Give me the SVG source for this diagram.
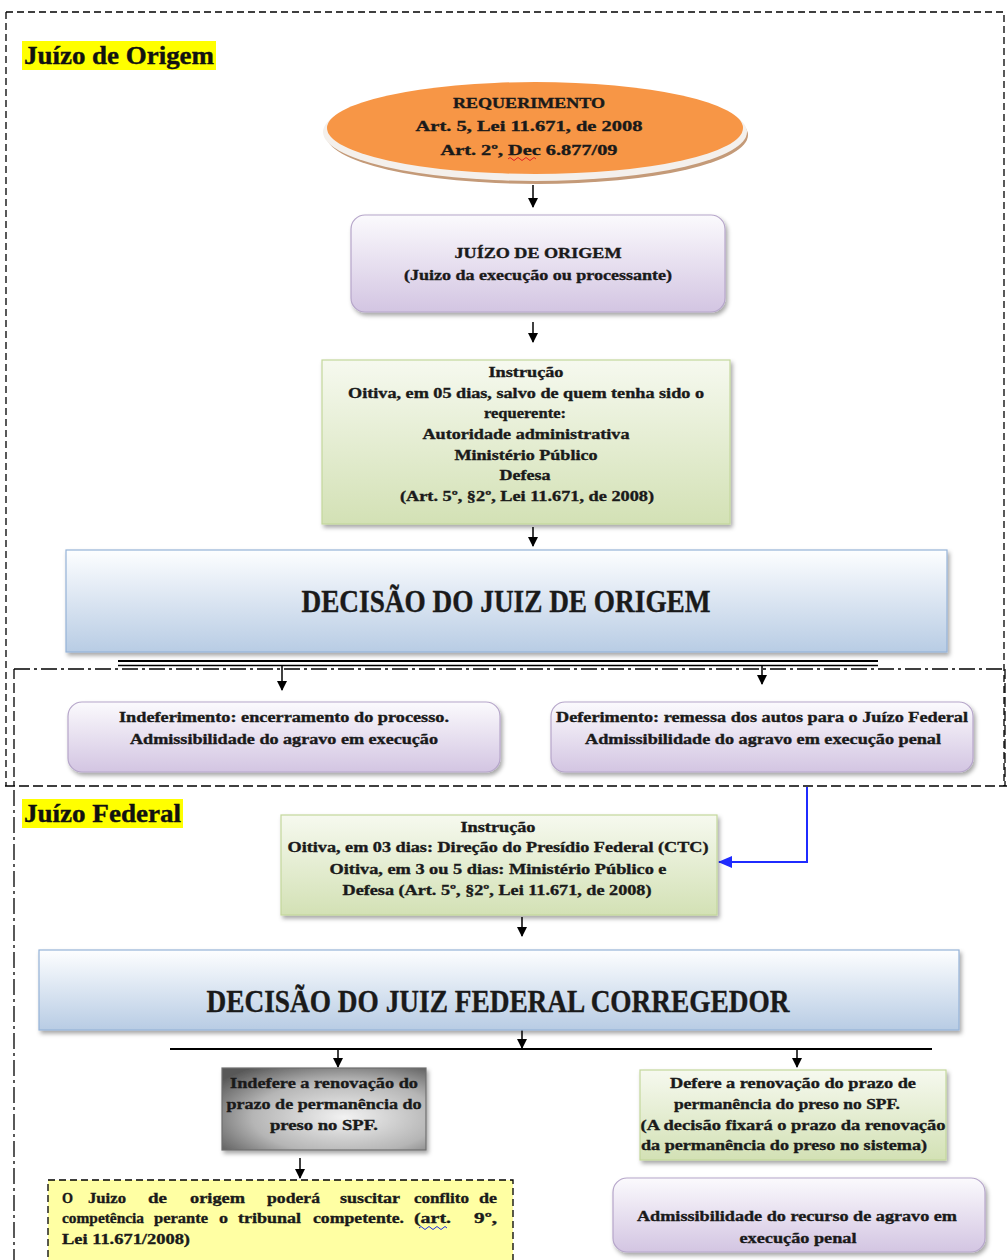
<svg xmlns="http://www.w3.org/2000/svg" width="1007" height="1260" viewBox="0 0 1007 1260">
<style>
.t{font-family:"Liberation Serif","Times New Roman",serif;font-weight:bold;fill:#1a1a1a;stroke:#1a1a1a;stroke-width:0.35;text-anchor:middle;font-size:14.5px}
.tl{font-family:"Liberation Serif","Times New Roman",serif;font-weight:bold;fill:#1a1a1a;stroke:#1a1a1a;stroke-width:0.35;font-size:15px}
.big{font-family:"Liberation Serif","Times New Roman",serif;font-weight:bold;fill:#1a1a1a;stroke:#1a1a1a;stroke-width:0.4;text-anchor:middle;font-size:32px}
.lab{font-family:"Liberation Serif","Times New Roman",serif;font-weight:bold;fill:#111;stroke:#111;stroke-width:0.4;font-size:25px}
.lav{fill:url(#gLav);stroke:#B6A6CA;stroke-width:1.2}
.grn{fill:url(#gGrn);stroke:#C4D79B;stroke-width:1.2}
.blu{fill:url(#gBlu);stroke:#95B3D7;stroke-width:1.2}
.conn{stroke:#000;stroke-width:1.5;fill:none}
.frame{fill:none;stroke:#000;stroke-width:1.3}
</style>
<defs>
<linearGradient id="gLav" x1="0" y1="0" x2="0" y2="1"><stop offset="0" stop-color="#FBFAFD"/><stop offset="1" stop-color="#D3C5E2"/></linearGradient>
<linearGradient id="gGrn" x1="0" y1="0" x2="0" y2="1"><stop offset="0" stop-color="#F6F9EF"/><stop offset="1" stop-color="#D3E1B5"/></linearGradient>
<linearGradient id="gBlu" x1="0" y1="0" x2="0" y2="1"><stop offset="0" stop-color="#FDFEFF"/><stop offset="1" stop-color="#B8CCE4"/></linearGradient>
<radialGradient id="gGray" cx="0.6" cy="0.6" r="0.75"><stop offset="0" stop-color="#F2F2F2"/><stop offset="0.6" stop-color="#B5B5B5"/><stop offset="1" stop-color="#595959"/></radialGradient>
<filter id="sh" x="-5%" y="-10%" width="110%" height="130%"><feDropShadow dx="2" dy="3" stdDeviation="2" flood-color="#000" flood-opacity="0.35"/></filter>
<marker id="ah" markerWidth="10" markerHeight="10" refX="9" refY="5" orient="auto" markerUnits="userSpaceOnUse"><path d="M0,0 L10,5 L0,10 Z" fill="#000"/></marker>
<marker id="ahb" markerWidth="14" markerHeight="12" refX="13" refY="6" orient="auto" markerUnits="userSpaceOnUse"><path d="M0,0 L14,6 L0,12 Z" fill="#1F2BFF"/></marker>
</defs>

<g id="frames">
<path class="frame" stroke-dasharray="7,4" d="M6,12 H1004 V786 M6,12 V786"/>
<path class="frame" stroke-dasharray="16,4,3,4" d="M14,669 H1005"/>
<path class="frame" stroke-dasharray="10,4" d="M14,669 V786 M1005,669 V786 M5,786 H1007"/>
<path class="frame" stroke-dasharray="16,4,3,4" d="M14,790 V1260"/>
</g>

<g id="label-origem">
<rect x="22" y="41" width="194" height="29" fill="#FFFF00"/>
<text class="lab" x="24" y="64" textLength="190" lengthAdjust="spacingAndGlyphs">Juízo de Origem</text>
</g>

<g id="label-federal">
<rect x="22" y="799" width="161" height="29" fill="#FFFF00"/>
<text class="lab" x="24" y="822" textLength="157" lengthAdjust="spacingAndGlyphs">Juízo Federal</text>
</g>

<g id="connectors">
<line class="conn" x1="533" y1="185" x2="533" y2="207" marker-end="url(#ah)"/>
<line class="conn" x1="533" y1="322" x2="533" y2="342" marker-end="url(#ah)"/>
<line class="conn" x1="533" y1="527" x2="533" y2="546" marker-end="url(#ah)"/>
<line stroke="#000" stroke-width="2" x1="118" y1="661" x2="878" y2="661"/>
<line stroke="#000" stroke-width="1.5" x1="118" y1="665.5" x2="878" y2="665.5"/>
<line class="conn" x1="282" y1="665" x2="282" y2="690" marker-end="url(#ah)"/>
<line class="conn" x1="762" y1="665" x2="762" y2="684" marker-end="url(#ah)"/>
<path d="M807,787 V862 H719" fill="none" stroke="#1F2BFF" stroke-width="2" marker-end="url(#ahb)"/>
<line class="conn" x1="522" y1="917" x2="522" y2="936" marker-end="url(#ah)"/>
<line class="conn" x1="522" y1="1030" x2="522" y2="1048" marker-end="url(#ah)"/>
<line stroke="#000" stroke-width="2" x1="170" y1="1049" x2="932" y2="1049"/>
<line class="conn" x1="338" y1="1049" x2="338" y2="1067" marker-end="url(#ah)"/>
<line class="conn" x1="797" y1="1049" x2="797" y2="1067" marker-end="url(#ah)"/>
<line class="conn" x1="300" y1="1158" x2="300" y2="1178" marker-end="url(#ah)"/>
</g>

<g id="requerimento">
<ellipse cx="537" cy="135" rx="211" ry="49" fill="#C49A78"/>
<ellipse cx="535" cy="132" rx="212" ry="49" fill="#F4F0EC"/>
<ellipse cx="535" cy="128" rx="208" ry="46" fill="#F79646"/>
<text class="t" x="529" y="108" font-size="14" textLength="152" lengthAdjust="spacingAndGlyphs">REQUERIMENTO</text>
<text class="t" x="529" y="131" font-size="18" textLength="227" lengthAdjust="spacingAndGlyphs">Art. 5, Lei 11.671, de 2008</text>
<text class="t" x="529" y="155" font-size="18" textLength="177" lengthAdjust="spacingAndGlyphs">Art. 2º, Dec 6.877/09</text>
<path d="M508,159 q2,-3 4,0 t4,0 t4,0 t4,0 t4,0 t4,0 t4,0" fill="none" stroke="#E02020" stroke-width="1"/>
</g>

<g id="juizo-origem">
<rect class="lav" x="351" y="215" width="374" height="97" rx="14" filter="url(#sh)"/>
<text class="t" x="538" y="258" textLength="167" lengthAdjust="spacingAndGlyphs">JUÍZO DE ORIGEM</text>
<text class="t" x="538" y="280" textLength="268" lengthAdjust="spacingAndGlyphs">(Juizo da execução ou processante)</text>
</g>

<g id="instrucao-origem">
<rect class="grn" x="322" y="360" width="408" height="164" filter="url(#sh)"/>
<text class="t" x="526" y="377" textLength="75" lengthAdjust="spacingAndGlyphs">Instrução</text>
<text class="t" x="526" y="398" textLength="356" lengthAdjust="spacingAndGlyphs">Oitiva, em 05 dias, salvo de quem tenha sido o</text>
<text class="t" x="525" y="418" textLength="82" lengthAdjust="spacingAndGlyphs">requerente:</text>
<text class="t" x="526" y="439" textLength="207" lengthAdjust="spacingAndGlyphs">Autoridade administrativa</text>
<text class="t" x="526" y="460" textLength="143" lengthAdjust="spacingAndGlyphs">Ministério Público</text>
<text class="t" x="525" y="480" textLength="51" lengthAdjust="spacingAndGlyphs">Defesa</text>
<text class="t" x="527" y="501" textLength="254" lengthAdjust="spacingAndGlyphs">(Art. 5º, §2º, Lei 11.671, de 2008)</text>
</g>

<g id="decisao-origem">
<rect class="blu" x="66" y="550" width="881" height="102" filter="url(#sh)"/>
<text class="big" x="506" y="612" textLength="409" lengthAdjust="spacingAndGlyphs">DECISÃO DO JUIZ DE ORIGEM</text>
</g>

<g id="indeferimento">
<rect class="lav" x="68" y="702" width="432" height="70" rx="14" filter="url(#sh)"/>
<text class="t" x="284" y="722" textLength="330" lengthAdjust="spacingAndGlyphs">Indeferimento: encerramento do processo.</text>
<text class="t" x="284" y="744" textLength="308" lengthAdjust="spacingAndGlyphs">Admissibilidade do agravo em execução</text>
</g>

<g id="deferimento">
<rect class="lav" x="551" y="702" width="422" height="70" rx="14" filter="url(#sh)"/>
<text class="t" x="762" y="722" textLength="412" lengthAdjust="spacingAndGlyphs">Deferimento: remessa dos autos para o Juízo Federal</text>
<text class="t" x="763" y="744" textLength="356" lengthAdjust="spacingAndGlyphs">Admissibilidade do agravo em execução penal</text>
</g>

<g id="instrucao-federal">
<rect class="grn" x="281" y="815" width="436" height="100" filter="url(#sh)"/>
<text class="t" x="498" y="832" textLength="75" lengthAdjust="spacingAndGlyphs">Instrução</text>
<text class="t" x="498" y="852" textLength="421" lengthAdjust="spacingAndGlyphs">Oitiva, em 03 dias: Direção do Presídio Federal (CTC)</text>
<text class="t" x="498" y="874" textLength="337" lengthAdjust="spacingAndGlyphs">Oitiva, em 3 ou 5 dias:  Ministério Público e</text>
<text class="t" x="497" y="895" textLength="309" lengthAdjust="spacingAndGlyphs">Defesa (Art. 5º, §2º, Lei 11.671, de 2008)</text>
</g>

<g id="decisao-federal">
<rect class="blu" x="39" y="950" width="920" height="80" filter="url(#sh)"/>
<text class="big" x="498" y="1012" textLength="583" lengthAdjust="spacingAndGlyphs">DECISÃO DO JUIZ FEDERAL CORREGEDOR</text>
</g>

<g id="indefere">
<rect x="222" y="1068" width="204" height="82" fill="url(#gGray)" stroke="#6E6E6E" stroke-width="1.2" filter="url(#sh)"/>
<text class="t" x="324" y="1088" textLength="188" lengthAdjust="spacingAndGlyphs">Indefere a renovação do</text>
<text class="t" x="324" y="1109" textLength="195" lengthAdjust="spacingAndGlyphs">prazo de permanência do</text>
<text class="t" x="324" y="1130" textLength="108" lengthAdjust="spacingAndGlyphs">preso no SPF.</text>
</g>

<g id="conflito">
<rect x="48" y="1180" width="465" height="85" fill="#FFFFA3" stroke="#000" stroke-width="1.3" stroke-dasharray="7,4"/>
<text class="tl" x="62" y="1203" textLength="11" lengthAdjust="spacingAndGlyphs">O</text>
<text class="tl" x="88" y="1203" textLength="38" lengthAdjust="spacingAndGlyphs">Juizo</text>
<text class="tl" x="148" y="1203" textLength="19" lengthAdjust="spacingAndGlyphs">de</text>
<text class="tl" x="190" y="1203" textLength="55" lengthAdjust="spacingAndGlyphs">origem</text>
<text class="tl" x="267" y="1203" textLength="53" lengthAdjust="spacingAndGlyphs">poderá</text>
<text class="tl" x="340" y="1203" textLength="60" lengthAdjust="spacingAndGlyphs">suscitar</text>
<text class="tl" x="414" y="1203" textLength="55" lengthAdjust="spacingAndGlyphs" style="font-variant-ligatures:none">conflito</text>
<text class="tl" x="479" y="1203" textLength="18" lengthAdjust="spacingAndGlyphs">de</text>
<text class="tl" x="62" y="1223" textLength="82" lengthAdjust="spacingAndGlyphs">competência</text>
<text class="tl" x="154" y="1223" textLength="54" lengthAdjust="spacingAndGlyphs">perante</text>
<text class="tl" x="219" y="1223" textLength="9" lengthAdjust="spacingAndGlyphs">o</text>
<text class="tl" x="238" y="1223" textLength="63" lengthAdjust="spacingAndGlyphs">tribunal</text>
<text class="tl" x="313" y="1223" textLength="91" lengthAdjust="spacingAndGlyphs">competente.</text>
<text class="tl" x="414" y="1223" textLength="37" lengthAdjust="spacingAndGlyphs">(art.</text>
<text class="tl" x="474" y="1223" textLength="23" lengthAdjust="spacingAndGlyphs">9º,</text>
<text class="tl" x="62" y="1244" textLength="128" lengthAdjust="spacingAndGlyphs">Lei 11.671/2008)</text>
<path d="M419,1228 q2,-3 4,0 t4,0 t4,0 t4,0 t4,0 t4,0 t4,0" fill="none" stroke="#2030E0" stroke-width="1"/>
</g>

<g id="defere">
<rect class="grn" x="640" y="1070" width="306" height="90" filter="url(#sh)"/>
<text class="t" x="793" y="1088" textLength="246" lengthAdjust="spacingAndGlyphs">Defere a renovação do prazo de</text>
<text class="t" x="787" y="1109" textLength="226" lengthAdjust="spacingAndGlyphs">permanência do preso no SPF.</text>
<text class="t" x="793" y="1130" textLength="305" lengthAdjust="spacingAndGlyphs">(A decisão fixará o prazo da renovação</text>
<text class="t" x="784" y="1150" textLength="286" lengthAdjust="spacingAndGlyphs">da permanência do preso no sistema)</text>
</g>

<g id="admissibilidade-recurso">
<rect class="lav" x="613" y="1178" width="372" height="74" rx="14" filter="url(#sh)"/>
<text class="t" x="797" y="1221" textLength="320" lengthAdjust="spacingAndGlyphs">Admissibilidade do recurso de agravo em</text>
<text class="t" x="798" y="1243" textLength="117" lengthAdjust="spacingAndGlyphs">execução penal</text>
</g>
</svg>
